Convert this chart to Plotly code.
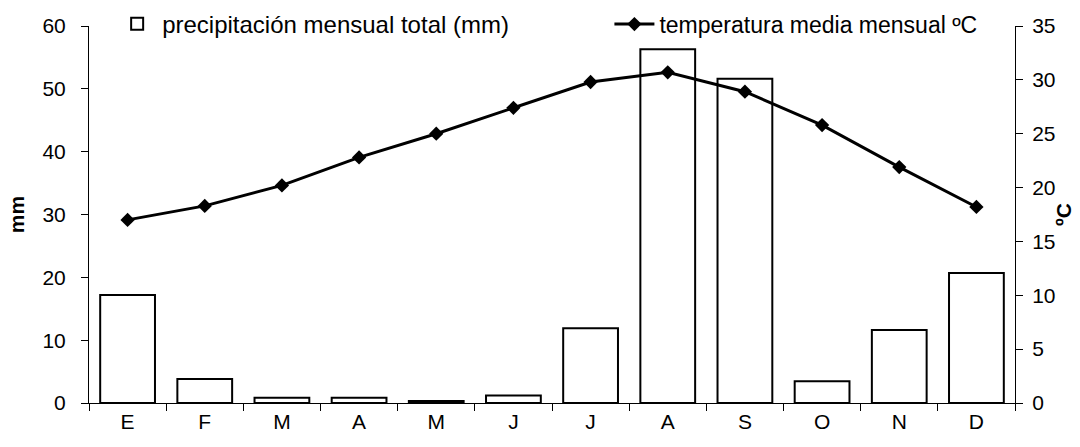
import plotly.graph_objects as go

months = ["E", "F", "M", "A", "M", "J", "J", "A", "S", "O", "N", "D"]
precip = [17.2, 3.8, 0.85, 0.85, 0.3, 1.2, 11.9, 56.3, 51.6, 3.45, 11.6, 20.7]
temp = [17.0, 18.3, 20.2, 22.8, 25.0, 27.4, 29.8, 30.7, 28.9, 25.8, 21.9, 18.2]
mm_ticks = [0, 10, 20, 30, 40, 50, 60]
c_ticks = [0, 5, 10, 15, 20, 25, 30, 35]

x = list(range(len(months)))
bounds = [i - 0.5 for i in range(len(months) + 1)]
FONT = "Liberation Sans, Arial, sans-serif"

fig = go.Figure()
fig.add_trace(go.Bar(
    x=x, y=precip, width=0.71, name="precipitación mensual total (mm)",
    marker=dict(color="white", line=dict(color="black", width=2)),
    legend="legend",
))
fig.add_trace(go.Scatter(
    x=x, y=temp, yaxis="y2", mode="lines+markers",
    name="temperatura media mensual ºC",
    line=dict(color="black", width=3),
    marker=dict(symbol="diamond", size=11, color="black"),
    legend="legend2",
))

axis_common = dict(showgrid=False, zeroline=False, tickcolor="black", tickwidth=1,
                   automargin=False)

fig.update_layout(
    width=1080, height=447,
    margin=dict(l=89, r=65, t=26, b=44, autoexpand=False),
    paper_bgcolor="white", plot_bgcolor="white",
    font=dict(family=FONT, size=21, color="black"),
    showlegend=True,
    xaxis=dict(
        range=[-0.5, 11.5], tickmode="array", tickvals=x, ticktext=months,
        ticks="", showline=True, linecolor="black", linewidth=1,
        minor=dict(tickmode="array", tickvals=bounds, ticks="outside", ticklen=7,
                   tickcolor="black", showgrid=False),
        tickfont=dict(size=21), **axis_common,
    ),
    xaxis2=dict(
        overlaying="x", range=[-0.5, 11.5], tickmode="array", tickvals=bounds,
        ticks="inside", ticklen=7, showticklabels=False, showline=False, **axis_common,
    ),
    yaxis=dict(
        range=[0, 60], tickmode="array", tickvals=mm_ticks, ticks="outside", ticklen=7,
        showline=True, linecolor="black", linewidth=1, ticklabelstandoff=11,
        title=dict(text="<b>mm</b>", font=dict(size=21), standoff=12),
        tickfont=dict(size=21), **axis_common,
    ),
    yaxis3=dict(
        overlaying="y", side="left", range=[0, 60], tickmode="array", tickvals=mm_ticks,
        ticks="inside", ticklen=7, showticklabels=False, showline=False, **axis_common,
    ),
    yaxis2=dict(
        overlaying="y", side="right", range=[0, 35], tickmode="array", tickvals=c_ticks,
        ticks="outside", ticklen=7, showline=True, linecolor="black", linewidth=1,
        ticklabelstandoff=5,
        title=dict(text="<b>ºC</b>", font=dict(size=21), standoff=1),
        tickfont=dict(size=21), **axis_common,
    ),
    yaxis4=dict(
        overlaying="y", side="right", range=[0, 35], tickmode="array", tickvals=c_ticks,
        ticks="inside", ticklen=7, showticklabels=False, showline=False, **axis_common,
    ),
    legend=dict(x=0.025, y=1.005, xanchor="left", yanchor="middle",
                bgcolor="rgba(0,0,0,0)", font=dict(size=24), itemwidth=40),
    legend2=dict(x=0.562, y=1.005, xanchor="left", yanchor="middle",
                 bgcolor="rgba(0,0,0,0)", font=dict(size=23), itemwidth=40),
    bargap=0.29,
)

fig.write_html(
    "out.html",
    config={"displayModeBar": False},
    post_script="document.body.style.margin='0';document.body.style.overflow='hidden';",
)
